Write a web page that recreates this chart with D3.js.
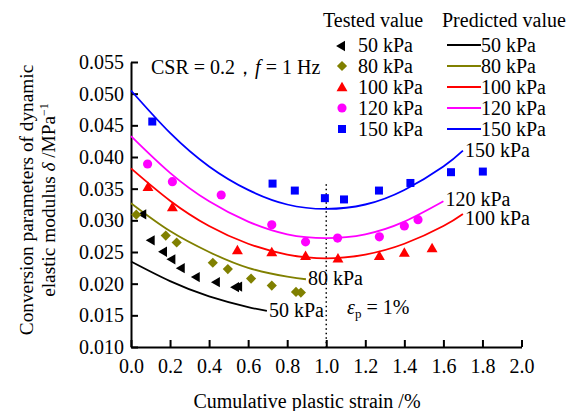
<!DOCTYPE html>
<html>
<head>
<meta charset="utf-8">
<script src="https://cdn.jsdelivr.net/npm/d3@7"></script>
<style>
  body { margin: 0; background: #fff; }
  svg { font-family: "Liberation Serif", "Times New Roman", serif; }
</style>
</head>
<body>
<svg width="570" height="411"></svg>
<script>
// Tested values (cumulative plastic strain %, delta MPa^-1)
const tested50 = [[0.063,0.0311],[0.106,0.0270],[0.169,0.0252],[0.212,0.0240],[0.26,0.0226],[0.337,0.0212],[0.44,0.0204],[0.538,0.0196],[0.554,0.0197]];
const tested80 = [[0.027,0.0309],[0.178,0.0276],[0.234,0.0265],[0.419,0.0233],[0.496,0.0223],[0.615,0.0208],[0.721,0.0197],[0.845,0.0187],[0.870,0.0186]];
const tested100 = [[0.087,0.0353],[0.212,0.0321],[0.545,0.0253],[0.721,0.0250],[0.894,0.0244],[1.06,0.0240],[1.272,0.0244],[1.40,0.0249],[1.542,0.0256]];
const tested120 = [[0.085,0.0389],[0.212,0.0361],[0.462,0.0340],[0.721,0.0293],[0.894,0.0266],[1.058,0.0272],[1.272,0.0274],[1.40,0.0291],[1.47,0.0301]];
const tested150 = [[0.109,0.0456],[0.725,0.0358],[0.839,0.0347],[0.993,0.0335],[1.091,0.0333],[1.270,0.0347],[1.431,0.0359],[1.639,0.0376],[1.802,0.0377]];

// Predicted curves
const pred50 = [[0,0.0235],[0.2,0.0204],[0.4,0.0180],[0.6,0.0163],[0.696,0.0157]];
const pred80 = [[0,0.0327],[0.2,0.0283],[0.4,0.0250],[0.6,0.0225],[0.8,0.0211],[0.896,0.0207]];
const pred100 = [[0,0.0382],[0.2,0.0331],[0.4,0.0291],[0.6,0.0263],[0.8,0.0246],[1.0,0.0240],[1.2,0.0246],[1.4,0.0263],[1.6,0.0291],[1.7,0.0310]];
const pred120 = [[0,0.0433],[0.2,0.0375],[0.4,0.0330],[0.6,0.0298],[0.8,0.0278],[1.0,0.0272],[1.2,0.0278],[1.4,0.0298],[1.6,0.0330]];
const pred150 = [[0,0.0505],[0.2,0.0438],[0.4,0.0385],[0.6,0.0348],[0.8,0.0325],[1.0,0.0318],[1.2,0.0325],[1.4,0.0348],[1.6,0.0385],[1.7,0.0410]];

const pressures = ["50 kPa", "80 kPa", "100 kPa", "120 kPa", "150 kPa"];
const colors = ["#000000", "#808000", "#ff0000", "#ff00ff", "#0000ff"];
const xTicks = [0, 0.2, 0.4, 0.6, 0.8, 1.0, 1.2, 1.4, 1.6, 1.8, 2.0];
const yTicks = [0.010, 0.015, 0.020, 0.025, 0.030, 0.035, 0.040, 0.045, 0.050, 0.055];

const svg = d3.select("svg");
const fs = 20;

const x = d3.scaleLinear().domain([0, 2]).range([131, 521.5]);
const y = d3.scaleLinear().domain([0.010, 0.055]).range([347, 62]);

// axes
const xAxis = svg.append("g")
  .attr("transform", "translate(0,347)")
  .call(d3.axisBottom(x).tickValues(xTicks).tickFormat(d3.format(".1f")).tickSizeInner(-7).tickSizeOuter(0).tickPadding(12));
const yAxis = svg.append("g")
  .attr("transform", "translate(131,0)")
  .call(d3.axisLeft(y).tickValues(yTicks).tickFormat(d3.format(".3f")).tickSizeInner(-7).tickSizeOuter(0).tickPadding(7));
[xAxis, yAxis].forEach(g => {
  g.select(".domain").attr("stroke", "#000").attr("stroke-width", 2);
  g.selectAll(".tick line").attr("stroke", "#000").attr("stroke-width", 2);
  g.selectAll(".tick text").attr("fill", "#000").style("font-size", fs + "px").style("font-family", "Liberation Serif, Times New Roman, serif");
});

// dotted line at 1%
svg.append("line")
  .attr("x1", x(1)).attr("x2", x(1))
  .attr("y1", y(0.0357)).attr("y2", y(0.010))
  .attr("stroke", "#000").attr("stroke-width", 1.5)
  .attr("stroke-dasharray", "1.5,3");

// predicted curves
const preds = [pred50, pred80, pred100, pred120, pred150];
const labelShift = [6, 6, 11, 5, 6];
const line = d3.line().x(d => x(d[0])).y(d => y(d[1])).curve(d3.curveNatural);
preds.forEach((p, i) => {
  svg.append("path").datum(p)
    .attr("fill", "none").attr("stroke", colors[i]).attr("stroke-width", 1.8)
    .attr("d", line);
  const end = p[p.length - 1];
  svg.append("text")
    .attr("x", x(end[0]) + 2).attr("y", y(end[1]) + labelShift[i])
    .style("font-size", fs + "px").text(pressures[i]);
});

// markers
const symbols = [
  d3.symbol().type(d3.symbolTriangle).size(46),
  d3.symbol().type(d3.symbolSquare).size(52),
  d3.symbol().type(d3.symbolTriangle).size(52),
  d3.symbol().type(d3.symbolCircle).size(66),
  d3.symbol().type(d3.symbolSquare).size(64)
];
const rotations = [-90, 45, 0, 0, 0];
const tested = [tested50, tested80, tested100, tested120, tested150];
tested.forEach((t, i) => {
  svg.selectAll(".pt" + i).data(t).enter().append("path")
    .attr("class", "pt" + i)
    .attr("d", symbols[i])
    .attr("fill", colors[i])
    .attr("transform", d => `translate(${x(d[0])},${y(d[1]) + (i === 0 || i === 2 ? 1 : 0)}) rotate(${rotations[i]})`);
});

// annotation
const ann = svg.append("text").attr("x", 151).attr("y", 74).style("font-size", fs + "px");
ann.append("tspan").text("CSR = 0.2，");
ann.append("tspan").style("font-style", "italic").text("f");
ann.append("tspan").text(" = 1 Hz");

const ep = svg.append("text").attr("x", 347).attr("y", 314).style("font-size", fs + "px");
ep.append("tspan").style("font-style", "italic").text("ε");
ep.append("tspan").attr("dy", 4).style("font-size", "13px").text("p");
ep.append("tspan").attr("dy", -4).text(" = 1%");

// legend
svg.append("text").attr("x", 323).attr("y", 27).style("font-size", fs + "px").text("Tested value");
svg.append("text").attr("x", 442).attr("y", 27).style("font-size", fs + "px").text("Predicted value");
const rowY = [45, 66, 87, 108, 129];
pressures.forEach((p, i) => {
  svg.append("path")
    .attr("d", symbols[i])
    .attr("fill", colors[i])
    .attr("transform", `translate(342,${rowY[i] + (i === 0 || i === 2 ? 1 : 0)}) rotate(${rotations[i]})`);
  svg.append("text").attr("x", 358).attr("y", rowY[i] + 7).style("font-size", fs + "px").text(p);
  svg.append("line").attr("x1", 447).attr("x2", 481).attr("y1", rowY[i]).attr("y2", rowY[i])
    .attr("stroke", colors[i]).attr("stroke-width", 1.8);
  svg.append("text").attr("x", 481).attr("y", rowY[i] + 7).style("font-size", fs + "px").text(p);
});

// axis titles
svg.append("text").attr("x", 307).attr("y", 408).attr("text-anchor", "middle")
  .style("font-size", fs + "px").text("Cumulative plastic strain /%");
const yt = svg.append("g").attr("transform", "translate(0,200) rotate(-90)");
yt.append("text").attr("x", 0).attr("y", 33).attr("text-anchor", "middle")
  .style("font-size", "19.3px").text("Conversion parameters of dynamic");
const yt2 = yt.append("text").attr("x", 0).attr("y", 55).attr("text-anchor", "middle").style("font-size", "19.3px");
yt2.append("tspan").text("elastic modulus ");
yt2.append("tspan").style("font-style", "italic").text("δ");
yt2.append("tspan").text("  /MPa");
yt2.append("tspan").attr("dy", -7).style("font-size", "12px").text("−1");
</script>
</body>
</html>
